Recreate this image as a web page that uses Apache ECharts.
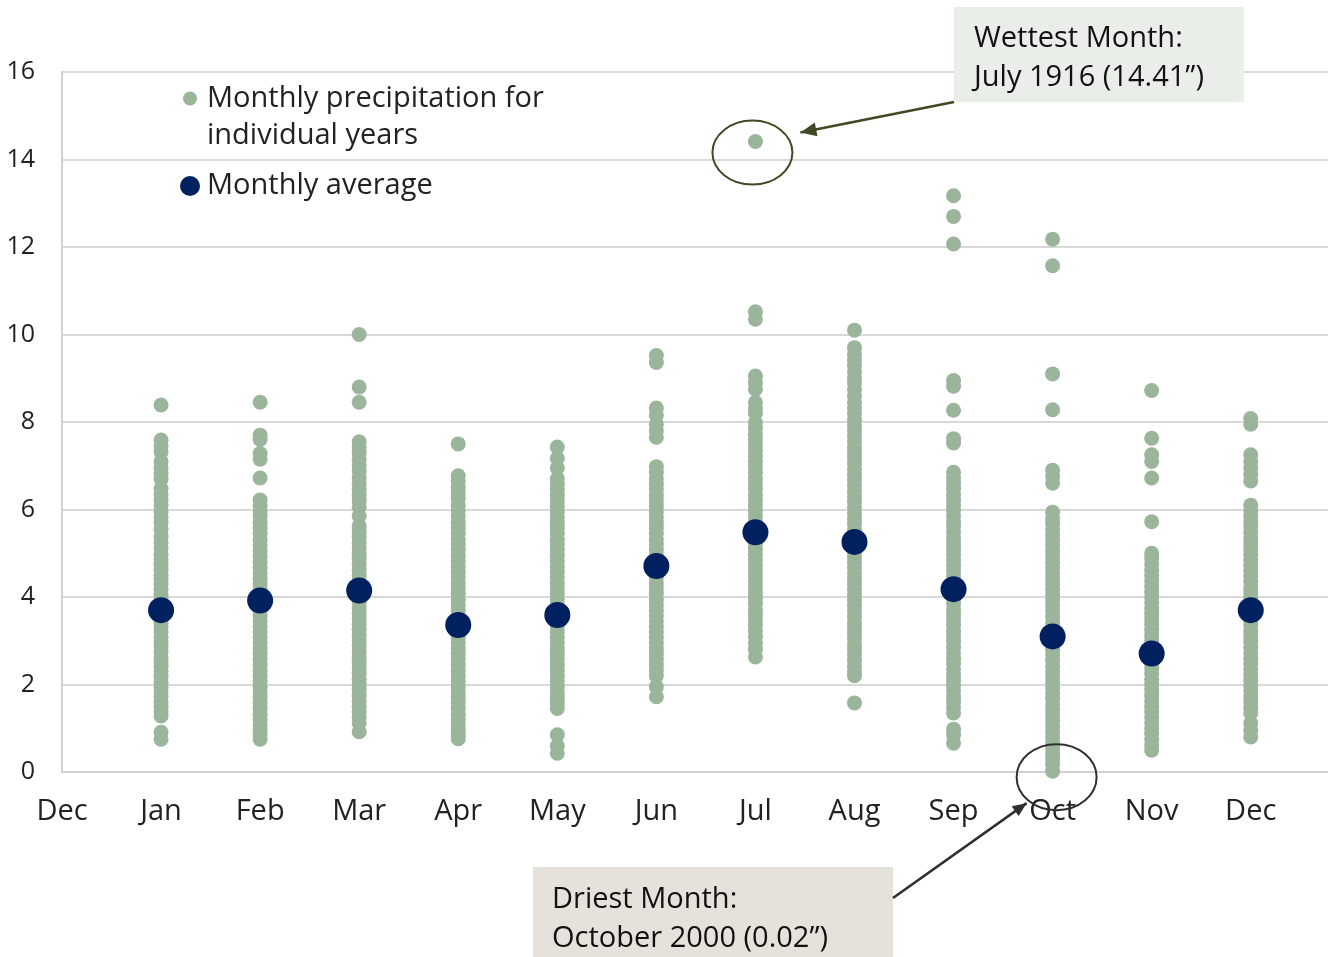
<!DOCTYPE html>
<html><head><meta charset="utf-8">
<script src="https://cdn.jsdelivr.net/npm/echarts@6/dist/echarts.min.js"></script>
<style>html,body{margin:0;padding:0;background:#fff}#c{width:1328px;height:957px}</style>
</head><body><div id="c"></div><script>
const xTickLabels = ['Dec','Jan','Feb','Mar','Apr','May','Jun','Jul','Aug','Sep','Oct','Nov','Dec'];
const seriesNames = ['Monthly precipitation for\nindividual years', 'Monthly average'];

const jan = [8.39,7.59,7.45,7.32,7.1,6.95,6.82,6.7,6.48,6.35,6.22,6.1,5.95,5.82,5.7,5.55,5.38,5.25,5.12,4.98,4.85,4.74,4.62,4.5,4.41,4.3,4.18,4.05,3.96,3.85,3.74,3.63,3.52,3.4,3.31,3.2,3.08,2.97,2.86,2.75,2.62,2.5,2.41,2.3,2.18,2.05,1.94,1.83,1.72,1.6,1.5,1.38,1.28,0.91,0.75];
const feb = [8.45,7.7,7.6,7.28,7.15,6.72,6.22,6.1,5.95,5.85,5.7,5.58,5.45,5.3,5.18,5.05,4.92,4.8,4.68,4.55,4.42,4.3,4.18,4.05,3.93,3.82,3.7,3.58,3.45,3.33,3.2,3.08,2.95,2.82,2.7,2.58,2.45,2.32,2.2,2.08,1.95,1.82,1.7,1.58,1.45,1.32,1.2,1.08,0.95,0.85,0.75];
const mar = [10.0,8.8,8.45,7.55,7.42,7.3,7.15,7.0,6.88,6.72,6.6,6.45,6.32,6.2,6.05,5.85,5.62,5.5,5.38,5.25,5.12,5.0,4.88,4.75,4.62,4.5,4.38,4.25,4.12,4.0,3.88,3.75,3.62,3.5,3.38,3.25,3.12,3.0,2.88,2.75,2.62,2.5,2.38,2.25,2.12,2.0,1.88,1.75,1.62,1.5,1.38,1.25,1.12,0.92];
const apr = [7.5,6.77,6.65,6.5,6.38,6.25,6.1,5.98,5.85,5.7,5.58,5.45,5.32,5.2,5.08,4.95,4.82,4.7,4.58,4.45,4.32,4.2,4.08,3.95,3.82,3.7,3.58,3.45,3.32,3.2,3.08,2.95,2.82,2.7,2.58,2.45,2.32,2.2,2.08,1.95,1.82,1.7,1.58,1.45,1.32,1.2,1.08,0.95,0.85,0.76];
const may = [7.43,7.17,6.95,6.7,6.58,6.45,6.32,6.2,6.08,5.95,5.82,5.7,5.58,5.45,5.32,5.2,5.08,4.95,4.82,4.7,4.58,4.45,4.32,4.2,4.08,3.95,3.82,3.7,3.58,3.45,3.32,3.2,3.08,2.95,2.82,2.7,2.58,2.45,2.32,2.2,2.08,1.95,1.82,1.7,1.58,1.45,0.85,0.6,0.43];
const jun = [9.52,9.36,8.32,8.15,7.95,7.8,7.65,6.98,6.85,6.7,6.58,6.45,6.32,6.2,6.08,5.95,5.82,5.7,5.58,5.45,5.32,5.2,5.08,4.95,4.82,4.7,4.58,4.45,4.32,4.2,4.08,3.95,3.82,3.7,3.58,3.45,3.32,3.2,3.08,2.95,2.82,2.7,2.58,2.45,2.32,2.2,1.95,1.72];
const jul = [14.41,10.52,10.35,9.05,8.9,8.75,8.45,8.3,8.2,7.98,7.85,7.72,7.6,7.48,7.35,7.22,7.1,6.98,6.85,6.72,6.6,6.48,6.35,6.22,6.1,5.98,5.85,5.72,5.6,5.48,5.35,5.22,5.1,4.98,4.85,4.72,4.6,4.48,4.35,4.22,4.1,3.98,3.85,3.72,3.6,3.48,3.35,3.22,3.1,2.95,2.8,2.63];
const aug = [10.1,9.7,9.55,9.42,9.3,9.15,9.02,8.9,8.75,8.6,8.45,8.32,8.2,8.05,7.92,7.8,7.68,7.55,7.42,7.3,7.18,7.05,6.92,6.8,6.68,6.55,6.42,6.3,6.18,6.05,5.92,5.8,5.68,5.55,5.42,5.3,5.18,5.05,4.92,4.8,4.68,4.55,4.42,4.3,4.18,4.05,3.92,3.8,3.68,3.55,3.42,3.3,3.18,3.05,2.92,2.8,2.68,2.55,2.42,2.3,2.2,1.58];
const sep = [13.17,12.7,12.07,8.95,8.82,8.27,7.62,7.52,6.85,6.72,6.6,6.48,6.35,6.22,6.1,5.98,5.85,5.72,5.6,5.48,5.35,5.22,5.1,4.98,4.85,4.72,4.6,4.48,4.35,4.22,4.1,3.98,3.85,3.72,3.6,3.48,3.35,3.22,3.1,2.98,2.85,2.72,2.6,2.48,2.35,2.22,2.1,1.98,1.85,1.72,1.6,1.48,1.35,0.98,0.85,0.66];
const oct = [12.18,11.57,9.1,8.28,6.9,6.75,6.6,5.94,5.8,5.68,5.55,5.42,5.3,5.18,5.05,4.92,4.8,4.68,4.55,4.42,4.3,4.18,4.05,3.92,3.8,3.68,3.55,3.42,3.3,3.18,3.05,2.92,2.8,2.68,2.55,2.42,2.3,2.18,2.05,1.92,1.8,1.68,1.55,1.42,1.3,1.18,1.05,0.92,0.8,0.68,0.55,0.42,0.3,0.18,0.02];
const nov = [8.72,7.63,7.25,7.1,6.72,5.72,5.0,4.88,4.75,4.62,4.5,4.38,4.25,4.12,4.0,3.88,3.75,3.62,3.5,3.38,3.25,3.12,3.0,2.88,2.75,2.62,2.5,2.38,2.25,2.12,2.0,1.88,1.75,1.62,1.5,1.38,1.25,1.12,1.0,0.88,0.75,0.62,0.5];
const dec = [8.08,7.95,7.25,7.1,6.95,6.8,6.65,6.1,5.98,5.85,5.72,5.6,5.48,5.35,5.22,5.1,4.98,4.85,4.72,4.6,4.48,4.35,4.22,4.1,3.98,3.85,3.72,3.6,3.48,3.35,3.22,3.1,2.98,2.85,2.72,2.6,2.48,2.35,2.22,2.1,1.98,1.85,1.72,1.6,1.48,1.35,1.12,0.95,0.8];
const monthlyAverages = [3.7,3.92,4.15,3.36,3.59,4.71,5.48,5.26,4.18,3.1,2.71,3.7];

const wettest = {month: 7, value: 14.41, lines: ['Wettest Month:', 'July 1916 (14.41\u201D)']};
const driest = {month: 10, value: 0.02, lines: ['Driest Month:', 'October 2000 (0.02\u201D)']};

const months = [jan,feb,mar,apr,may,jun,jul,aug,sep,oct,nov,dec];
const indiv = [];
months.forEach((arr, i) => arr.forEach(v => indiv.push([i + 1, v])));
const avg = monthlyAverages.map((v, i) => [i + 1, v]);

const FONT = '"Open Sans", Lato, sans-serif';
const FS = 29;
const chart = echarts.init(document.getElementById('c'), null, {renderer: 'canvas'});
chart.setOption({
  animation: false,
  backgroundColor: '#ffffff',
  grid: {left: 62, right: 0, top: 72, bottom: 185, containLabel: false},
  legend: [
    {data: [seriesNames[0]], left: 183, top: 43, padding: 0, orient: 'vertical', icon: 'circle', itemWidth: 14, itemHeight: 14,
     formatter: name => '\n' + name,
     textStyle: {fontFamily: FONT, fontSize: FS, color: '#222', lineHeight: 37, padding: [0, 0, 0, 5]}},
    {data: [seriesNames[1]], left: 180, top: 167.5, padding: 0, orient: 'vertical', icon: 'circle', itemWidth: 20, itemHeight: 20,
     textStyle: {fontFamily: FONT, fontSize: FS, color: '#222', lineHeight: 37, padding: [0, 0, 0, 2]}}
  ],
  xAxis: {
    type: 'value', min: 0, max: 12.78, interval: 1,
    axisLine: {show: true, lineStyle: {color: '#d0d0d0', width: 2}},
    axisTick: {show: false},
    splitLine: {show: false},
    axisLabel: {
      fontFamily: FONT, fontSize: FS, color: '#222', margin: 25, showMaxLabel: false,
      formatter: v => Number.isInteger(v) ? xTickLabels[v] : ''
    }
  },
  yAxis: {
    type: 'value', min: 0, max: 16, interval: 2,
    axisLine: {show: true, lineStyle: {color: '#d0d0d0', width: 2}},
    axisTick: {show: false},
    splitLine: {lineStyle: {color: '#d9d9d9', width: 2}},
    axisLabel: {fontFamily: FONT, fontSize: 25, color: '#222', margin: 27}
  },
  series: [
    {name: seriesNames[0], type: 'scatter', data: indiv, symbolSize: 15,
     itemStyle: {color: '#9bb59b', opacity: 1}, z: 2},
    {name: seriesNames[1], type: 'scatter', data: avg, symbolSize: 26,
     itemStyle: {color: '#012060', opacity: 1}, z: 3}
  ]
});

function arrowHead(x1, y1, x2, y2, len, half) {
  const dx = x2 - x1, dy = y2 - y1, d = Math.hypot(dx, dy);
  const ux = dx / d, uy = dy / d;
  const bx = x2 - ux * len, by = y2 - uy * len;
  return [[x2, y2], [bx - uy * half, by + ux * half], [bx + uy * half, by - ux * half]];
}

const pW = chart.convertToPixel({gridIndex: 0}, [wettest.month, wettest.value]);
const pD = chart.convertToPixel({gridIndex: 0}, [driest.month, driest.value]);
const wC = [pW[0] - 3, pW[1] + 11];
const dC = [pD[0] + 4, pD[1] + 6];
const wStart = [954, 102], wEnd = [wC[0] + 48, wC[1] - 20];
const dStart = [893, 898], dEnd = [dC[0] - 30, dC[1] + 26];
const olive = '#3d4a24', dark = '#2e2e2e';
const tf = FS + 'px ' + FONT;

chart.setOption({
  graphic: [
    {type: 'rect', left: 954, top: 7, shape: {width: 290, height: 95}, style: {fill: '#e9eee8'}, z: 10},
    {type: 'text', x: 974, y: 39, style: {text: wettest.lines[0], font: tf, fill: '#111', verticalAlign: 'middle'}, z: 11},
    {type: 'text', x: 974, y: 78, style: {text: wettest.lines[1], font: tf, fill: '#111', verticalAlign: 'middle'}, z: 11},
    {type: 'rect', left: 533, top: 867, shape: {width: 360, height: 90}, style: {fill: '#e4e2da'}, z: 10},
    {type: 'text', x: 552, y: 900, style: {text: driest.lines[0], font: tf, fill: '#111', verticalAlign: 'middle'}, z: 11},
    {type: 'text', x: 552, y: 939, style: {text: driest.lines[1], font: tf, fill: '#111', verticalAlign: 'middle'}, z: 11},
    {type: 'ellipse', shape: {cx: wC[0], cy: wC[1], rx: 40, ry: 32}, style: {fill: 'none', stroke: olive, lineWidth: 2}, z: 12},
    {type: 'ellipse', shape: {cx: dC[0], cy: dC[1], rx: 40, ry: 33}, style: {fill: 'none', stroke: dark, lineWidth: 2}, z: 12},
    {type: 'line', shape: {x1: wStart[0], y1: wStart[1], x2: wEnd[0], y2: wEnd[1]}, style: {stroke: olive, lineWidth: 2.5}, z: 12},
    {type: 'polygon', shape: {points: arrowHead(wStart[0], wStart[1], wEnd[0], wEnd[1], 16, 7)}, style: {fill: olive}, z: 12},
    {type: 'line', shape: {x1: dStart[0], y1: dStart[1], x2: dEnd[0], y2: dEnd[1]}, style: {stroke: dark, lineWidth: 2.5}, z: 12},
    {type: 'polygon', shape: {points: arrowHead(dStart[0], dStart[1], dEnd[0], dEnd[1], 14, 6)}, style: {fill: dark}, z: 12}
  ]
});
</script></body></html>
